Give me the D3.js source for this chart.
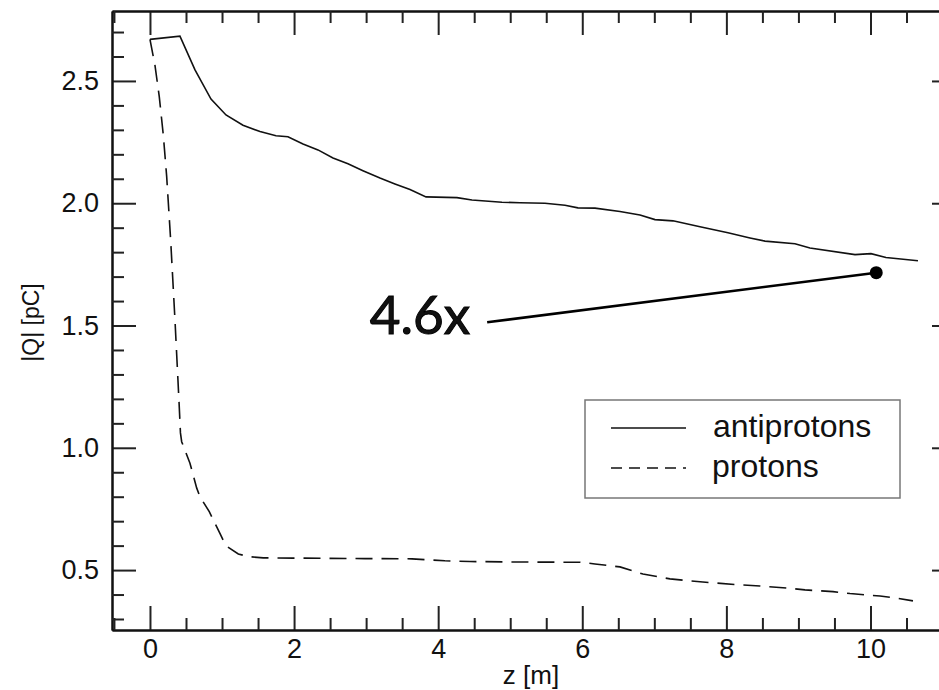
<!DOCTYPE html>
<html>
<head>
<meta charset="utf-8">
<script src="https://cdn.jsdelivr.net/npm/d3@7"></script>
<style>
  body { margin: 0; background: #fff; }
  svg { display: block; overflow: hidden; }
  text { font-family: "Liberation Sans", Arial, Helvetica, sans-serif; fill: #111; }
</style>
</head>
<body>
<svg id="chart"></svg>
<script>
// antiproton charge along z
const antiZ = [0, 0.416, 0.625, 0.847, 1.055, 1.291, 1.527, 1.749, 1.915, 2.124, 2.332, 2.540, 2.748, 2.956,
  3.192, 3.400, 3.609, 3.831, 4.261, 4.469, 4.885, 5.135, 5.482, 5.760, 5.940, 6.176, 6.523, 6.801,
  7.009, 7.259, 7.634, 8.022, 8.328, 8.536, 8.952, 9.160, 9.785, 10.007, 10.215, 10.659];
const antiQ = [2.670, 2.683, 2.545, 2.426, 2.361, 2.319, 2.293, 2.276, 2.272, 2.242, 2.218, 2.185, 2.161, 2.133,
  2.103, 2.079, 2.056, 2.026, 2.023, 2.013, 2.004, 2.002, 2.000, 1.992, 1.981, 1.980, 1.966, 1.952,
  1.933, 1.928, 1.904, 1.879, 1.858, 1.845, 1.834, 1.817, 1.790, 1.794, 1.778, 1.765];

// proton charge along z
const protZ = [0, 0.069, 0.129, 0.185, 0.232, 0.287, 0.347, 0.402, 0.423, 0.440, 0.555, 0.648, 0.694, 0.823,
  0.981, 1.051, 1.226, 1.364, 1.573, 1.989, 2.984, 3.636, 3.845, 4.094, 4.441, 5.135, 5.968, 6.176,
  6.523, 6.842, 7.217, 7.634, 8.119, 8.466, 8.855, 9.091, 9.480, 9.716, 10.132, 10.354, 10.590];
const protQ = [2.670, 2.565, 2.436, 2.279, 2.109, 1.850, 1.523, 1.196, 1.061, 1.025, 0.937, 0.836, 0.800, 0.739,
  0.644, 0.600, 0.566, 0.555, 0.550, 0.549, 0.547, 0.546, 0.542, 0.538, 0.535, 0.533, 0.532, 0.525,
  0.513, 0.484, 0.464, 0.452, 0.441, 0.435, 0.426, 0.419, 0.412, 0.404, 0.394, 0.386, 0.374];

// ticks
const xMajor = [0, 2, 4, 6, 8, 10];
const xMinor = [-0.5, 0.5, 1, 1.5, 2.5, 3, 3.5, 4.5, 5, 5.5, 6.5, 7, 7.5, 8.5, 9, 9.5, 10.5, 11];
const yMajor = [0.5, 1.0, 1.5, 2.0, 2.5];
const yMinor = [0.3, 0.4, 0.6, 0.7, 0.8, 0.9, 1.1, 1.2, 1.3, 1.4, 1.6, 1.7, 1.8, 1.9, 2.1, 2.2, 2.3, 2.4, 2.6, 2.7];

const legendNames = ["antiprotons", "protons"];
const annotText = "4.6x";
const annotFrom = [4.68, 1.513];
const annotTo = [10.08, 1.716];

const W = 939, H = 690;
const mLeft = 112, mRight = 956, mTop = 11, mBottom = 630;

const svg = d3.select("#chart").attr("width", W).attr("height", H);

const x = d3.scaleLinear().domain([-0.527, 11.187]).range([mLeft, mRight]);
const y = d3.scaleLinear().domain([0.255, 2.786]).range([mBottom, mTop]);

function styleAxis(g, sw) {
  g.select(".domain").attr("stroke", "#111").attr("stroke-width", 2);
  g.selectAll(".tick line").attr("stroke", "#222").attr("stroke-width", sw);
  g.selectAll(".tick text").style("font-size", "27px").attr("fill", "#111").attr("font-family", null);
}

// bottom axis
const xb = svg.append("g").attr("transform", `translate(0,${mBottom})`)
  .call(d3.axisBottom(x).tickValues(xMajor).tickSizeInner(-24).tickSizeOuter(0).tickPadding(9).tickFormat(d3.format("d")));
styleAxis(xb, 2);
const xbm = svg.append("g").attr("transform", `translate(0,${mBottom})`)
  .call(d3.axisBottom(x).tickValues(xMinor).tickSizeInner(-12).tickSizeOuter(0).tickFormat(""));
styleAxis(xbm, 2);

// top axis
const xt = svg.append("g").attr("transform", `translate(0,${mTop})`)
  .call(d3.axisTop(x).tickValues(xMajor).tickSizeInner(-24).tickSizeOuter(0).tickFormat(""));
styleAxis(xt, 2);
const xtm = svg.append("g").attr("transform", `translate(0,${mTop})`)
  .call(d3.axisTop(x).tickValues(xMinor).tickSizeInner(-12).tickSizeOuter(0).tickFormat(""));
styleAxis(xtm, 2);

// left axis
const yl = svg.append("g").attr("transform", `translate(${mLeft},0)`)
  .call(d3.axisLeft(y).tickValues(yMajor).tickSizeInner(-24).tickSizeOuter(0).tickPadding(13).tickFormat(d3.format(".1f")));
styleAxis(yl, 2);
const ylm = svg.append("g").attr("transform", `translate(${mLeft},0)`)
  .call(d3.axisLeft(y).tickValues(yMinor).tickSizeInner(-12).tickSizeOuter(0).tickFormat(""));
styleAxis(ylm, 2);

// right axis (mostly outside the frame)
const yr = svg.append("g").attr("transform", `translate(${mRight},0)`)
  .call(d3.axisRight(y).tickValues(yMajor).tickSizeInner(-24).tickSizeOuter(0).tickFormat(""));
styleAxis(yr, 2);
const yrm = svg.append("g").attr("transform", `translate(${mRight},0)`)
  .call(d3.axisRight(y).tickValues(yMinor).tickSizeInner(-12).tickSizeOuter(0).tickFormat(""));
styleAxis(yrm, 2);

// axis titles
svg.append("text")
  .attr("x", (mLeft + mRight) / 2 - 3).attr("y", 684)
  .attr("text-anchor", "middle").style("font-size", "26px")
  .text("z [m]");
svg.append("text")
  .attr("transform", `translate(39,${(mTop + mBottom) / 2 + 2}) rotate(-90)`)
  .attr("text-anchor", "middle").style("font-size", "23px")
  .text("|Q| [pC]");

// curves
const line = d3.line().x(d => x(d[0])).y(d => y(d[1]));
svg.append("path")
  .datum(antiZ.map((z, i) => [z, antiQ[i]]))
  .attr("d", line).attr("fill", "none").attr("stroke", "#111").attr("stroke-width", 1.6);
svg.append("path")
  .datum(protZ.map((z, i) => [z, protQ[i]]))
  .attr("d", line).attr("fill", "none").attr("stroke", "#111").attr("stroke-width", 1.6)
  .attr("stroke-dasharray", "17,9");

// annotation
svg.append("line")
  .attr("x1", x(annotFrom[0])).attr("y1", y(annotFrom[1]))
  .attr("x2", x(annotTo[0])).attr("y2", y(annotTo[1]))
  .attr("stroke", "#000").attr("stroke-width", 2.6);
svg.append("circle")
  .attr("cx", x(annotTo[0])).attr("cy", y(annotTo[1])).attr("r", 6.5).attr("fill", "#000");
svg.append("text")
  .attr("x", x(annotFrom[0]) - 17).attr("y", y(annotFrom[1]) + 12)
  .attr("text-anchor", "end")
  .style("font-family", "Lato, 'Open Sans', sans-serif").style("font-size", "53px")
  .attr("fill", "#000").attr("stroke", "#000").attr("stroke-width", 1)
  .text(annotText);

// legend
const lg = svg.append("g");
lg.append("rect").attr("x", 585).attr("y", 400).attr("width", 315).attr("height", 98)
  .attr("fill", "#fff").attr("stroke", "#777").attr("stroke-width", 1.5);
legendNames.forEach((name, i) => {
  const ly = 428 + i * 40;
  lg.append("line").attr("x1", 611).attr("x2", 686).attr("y1", ly).attr("y2", ly)
    .attr("stroke", "#111").attr("stroke-width", 1.6)
    .attr("stroke-dasharray", i === 1 ? "11,7" : null);
  lg.append("text").attr("x", 713 - i).attr("y", ly + 9)
    .style("font-size", "32px").text(name);
});
</script>
</body>
</html>
